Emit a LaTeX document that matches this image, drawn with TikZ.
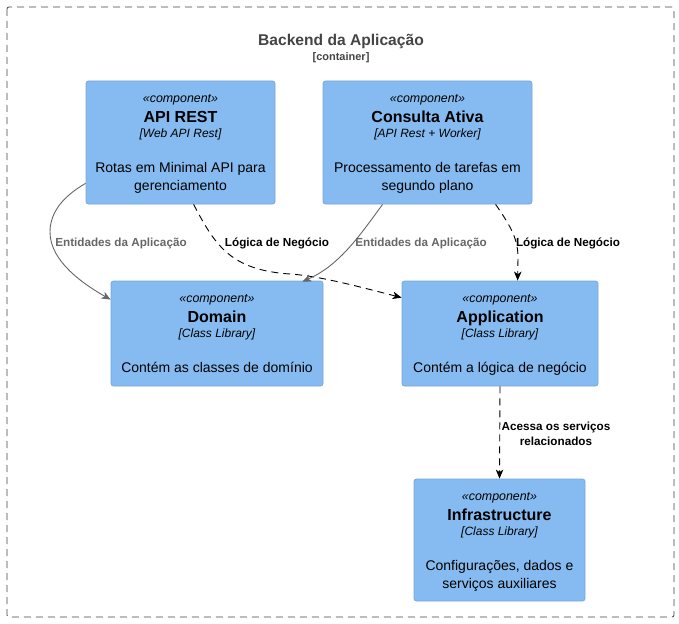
\documentclass[tikz,border=0pt]{standalone}
\usepackage{fontspec}
\setmainfont{Liberation Sans}
\usetikzlibrary{arrows.meta,calc}
\definecolor{compfill}{HTML}{85BBF0}
\definecolor{compborder}{HTML}{78A8D8}
\definecolor{bndgrey}{HTML}{444444}
\definecolor{relgrey}{HTML}{666666}
\begin{document}
\begin{tikzpicture}[x=1pt,y=-1pt,
  comp/.style={draw=compborder, fill=compfill, rounded corners=2.5pt, line width=0.8pt, inner sep=0pt},
  stereo/.style={anchor=base, inner sep=0pt, font=\fontsize{12.4}{14}\selectfont\itshape},
  ctitle/.style={anchor=base, inner sep=0pt, font=\fontsize{16}{18}\selectfont\bfseries},
  ctech/.style={anchor=base, inner sep=0pt, font=\fontsize{12}{14}\selectfont\itshape},
  cdesc/.style={anchor=base, inner sep=0pt, font=\fontsize{14}{18}\selectfont},
  rellabel/.style={anchor=base, inner sep=0pt, font=\fontsize{11.7}{15}\selectfont\bfseries},
  arrowtip/.style={-{Stealth[length=9pt,width=7.5pt,inset=2.5pt]}},
  solidrel/.style={arrowtip, draw=relgrey, line width=0.9pt},
  dashrel/.style={arrowtip, draw=black, line width=0.9pt, dash pattern=on 7pt off 5pt},
]
\useasboundingbox (0,0) rectangle (679,623);
% boundary
\draw[draw=bndgrey, line width=0.8pt, dash pattern=on 7pt off 5pt, rounded corners=2pt] (7,7) rectangle (674,617);
\node[anchor=base, inner sep=0pt, text=bndgrey, font=\fontsize{15.6}{18}\selectfont\bfseries] (btitle) at (341,46) {Backend da Aplicação};
\node[anchor=base, inner sep=0pt, text=bndgrey, font=\fontsize{11}{13}\selectfont\bfseries] (bsub) at (341,61) {[container]};

% API REST
\node[comp, minimum width=189pt, minimum height=123pt] (api) at (180.5,142.5) {};
\node[stereo] (apiS) at ($(api.north)+(0,22)$) {«component»};
\node[ctitle] (apiT) at ($(api.north)+(0,42)$) {API REST};
\node[ctech] (apiK) at ($(api.north)+(0,57)$) {[Web API Rest]};
\node[cdesc] (apiD1) at ($(api.north)+(0,92)$) {Rotas em Minimal API para};
\node[cdesc] (apiD2) at ($(api.north)+(0,110)$) {gerenciamento};

% Consulta Ativa
\node[comp, minimum width=209pt, minimum height=123pt] (cons) at (427.5,142.5) {};
\node[stereo] (consS) at ($(cons.north)+(0,22)$) {«component»};
\node[ctitle] (consT) at ($(cons.north)+(0,42)$) {Consulta Ativa};
\node[ctech] (consK) at ($(cons.north)+(0,57)$) {[API Rest + Worker]};
\node[cdesc] (consD1) at ($(cons.north)+(0,92)$) {Processamento de tarefas em};
\node[cdesc] (consD2) at ($(cons.north)+(0,110)$) {segundo plano};

% Domain
\node[comp, minimum width=212pt, minimum height=105pt] (dom) at (217,333.5) {};
\node[stereo] (domS) at ($(dom.north)+(0,22)$) {«component»};
\node[ctitle] (domT) at ($(dom.north)+(0,42)$) {Domain};
\node[ctech] (domK) at ($(dom.north)+(0,57)$) {[Class Library]};
\node[cdesc] (domD1) at ($(dom.north)+(0,92)$) {Contém as classes de domínio};

% Application
\node[comp, minimum width=196pt, minimum height=105pt] (app) at (500,333.5) {};
\node[stereo] (appS) at ($(app.north)+(0,22)$) {«component»};
\node[ctitle] (appT) at ($(app.north)+(0,42)$) {Application};
\node[ctech] (appK) at ($(app.north)+(0,57)$) {[Class Library]};
\node[cdesc] (appD1) at ($(app.north)+(0,92)$) {Contém a lógica de negócio};

% Infrastructure
\node[comp, minimum width=171pt, minimum height=122pt] (inf) at (499.5,540) {};
\node[stereo] (infS) at ($(inf.north)+(0,22)$) {«component»};
\node[ctitle] (infT) at ($(inf.north)+(0,42)$) {Infrastructure};
\node[ctech] (infK) at ($(inf.north)+(0,57)$) {[Class Library]};
\node[cdesc] (infD1) at ($(inf.north)+(0,92)$) {Configurações, dados e};
\node[cdesc] (infD2) at ($(inf.north)+(0,110)$) {serviços auxiliares};

% relations
\draw[solidrel] ($(api.south west)+(0,-21)$) .. controls (60,198) and (50,215) .. (50,232)
   .. controls (50,262) and (85,285) .. ($(dom.north west)+(0,19)$);
\draw[dashrel] ($(api.south west)+(108,0)$) .. controls (215,245) and (230,270) .. (290,274)
   .. controls (320,276) and (360,287) .. ($(app.north west)+(0,17)$);
\draw[solidrel] ($(cons.south west)+(60,0)$) .. controls (360,235) and (340,265) .. ($(dom.north east)+(-21,1)$);
\draw[dashrel] ($(cons.south west)+(173,0)$) .. controls (512,228) and (518,240) .. (518,258) -- ($(app.north west)+(116,0)$);
\draw[dashrel] (app.south) -- (inf.north);

\node[rellabel, text=relgrey] (l1) at (121,246) {Entidades da Aplicação};
\node[rellabel] (l2) at (277,246) {Lógica de Negócio};
\node[rellabel, text=relgrey] (l3) at (421,246) {Entidades da Aplicação};
\node[rellabel] (l4) at (568,246) {Lógica de Negócio};
\node[rellabel] (l5a) at (556,430) {Acessa os serviços};
\node[rellabel] (l5b) at (556,445) {relacionados};
\end{tikzpicture}
\end{document}
